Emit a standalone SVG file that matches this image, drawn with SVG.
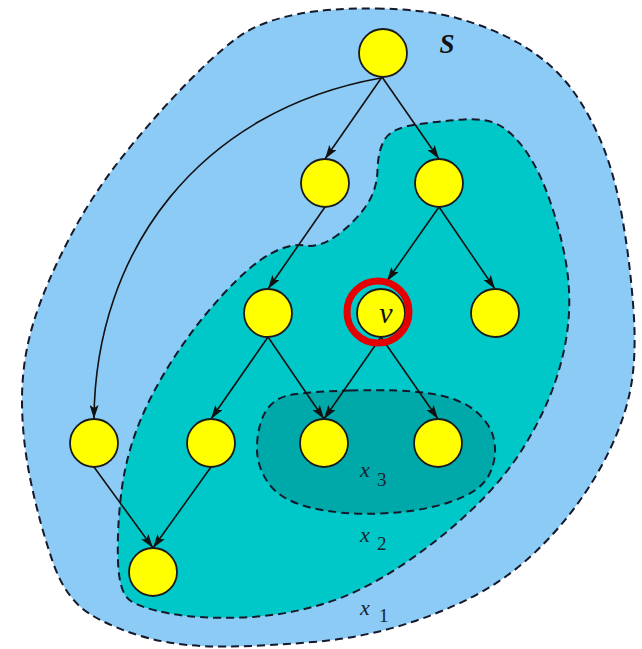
<svg xmlns="http://www.w3.org/2000/svg" width="642" height="649" viewBox="0 0 642 649">
<style>
.region{stroke:#15192a;stroke-width:2;stroke-dasharray:8 5;}
.node .disc{fill:#ffff00;stroke:#1a1a1a;stroke-width:1.8;}
.ring{fill:none;stroke:#e40000;stroke-width:7;}
.edge{fill:none;stroke:#111;stroke-width:1.6;marker-end:url(#ah);}
.lbl{font-family:"Liberation Serif","Times New Roman",serif;fill:#17222e;}
.dark{fill:#111;}
</style>
<defs>
<marker id="ah" markerWidth="15" markerHeight="9" refX="14" refY="4.5" orient="auto" markerUnits="userSpaceOnUse">
<path d="M0,0 L14,4.5 L0,9 L3,4.5 Z" fill="#111"/>
</marker>
</defs>
<rect width="642" height="649" fill="#ffffff"/>
<g id="region-S">
<path class="region" fill="#8dcbf7" d="M 376.5,8.5 Q 423,9 456.5,18 Q 490,27 517.5,42.5 Q 545,58 563.5,79 Q 582,100 597.5,133.5 Q 613,167 621.5,213.5 Q 630,260 633.5,310 Q 637,360 629.5,394 Q 622,428 602,465 Q 582,502 552.5,534.5 Q 523,567 490,587 Q 457,607 412,622 Q 367,637 318.5,641.5 Q 270,646 226.5,646.5 Q 183,647 150,638.5 Q 117,630 91.5,615 Q 66,600 53,562.5 Q 40,525 31,482.5 Q 22,440 22,400 Q 22,360 33.5,322.5 Q 45,285 69,239 Q 93,193 126.5,151.5 Q 160,110 193.5,76.5 Q 227,43 247,31.5 Q 267,20 298.5,14 Q 330,8 376.5,8.5 Z"/>
</g>
<g id="region-x2">
<path class="region" fill="#00c8c8" d="M 385,139 Q 392,128 416,124.5 Q 440,121 464,119.5 Q 488,118 501.5,126.5 Q 515,135 527.5,153.5 Q 540,172 550,201 Q 560,230 565.5,260 Q 571,290 568.5,320 Q 566,350 555.5,381 Q 545,412 525,445 Q 505,478 472.5,509 Q 440,540 400,566.5 Q 360,593 321.5,604.5 Q 283,616 241.5,617.5 Q 200,619 170,613.5 Q 140,608 129.5,600 Q 119,592 118,561 Q 117,530 121,495 Q 125,460 137.5,427.5 Q 150,395 172.5,360 Q 195,325 222.5,295 Q 250,265 270,254 Q 290,243 305,245.5 Q 320,248 337.5,235 Q 355,222 366,206 Q 377,190 377.5,170 Q 378,150 385,139 Z"/>
</g>
<g id="region-x3">
<path class="region" fill="#00a9a9" d="M 350,390.5 Q 400,389 430,393.5 Q 460,398 476,411.5 Q 492,425 494.5,442.5 Q 497,460 488.5,476 Q 480,492 450,502 Q 420,512 380,513.5 Q 340,515 310,507.5 Q 280,500 268,482.5 Q 256,465 257,445 Q 258,425 265,412.5 Q 272,400 286,396 Q 300,392 350,390.5 Z"/>
</g>
<g id="connectors">
<path class="edge" d="M 382,77 L 325,159"/>
<path class="edge" d="M 382,77 L 439,159"/>
<path class="edge" d="M 381,78 C 200,110 95,250 94,419"/>
<path class="edge" d="M 325,207 L 268,289"/>
<path class="edge" d="M 439,207 L 387,281"/>
<path class="edge" d="M 439,207 L 495,289"/>
<path class="edge" d="M 268,337 L 211,419"/>
<path class="edge" d="M 268,337 L 324,419"/>
<path class="edge" d="M 381,337 L 324,419"/>
<path class="edge" d="M 381,337 L 438,419"/>
<path class="edge" d="M 94,467 L 153,548"/>
<path class="edge" d="M 211,467 L 153,548"/>
</g>
<g id="n-top" class="node"><circle class="disc" cx="383" cy="53" r="24"/></g>
<g id="n-a" class="node"><circle class="disc" cx="325" cy="183" r="24"/></g>
<g id="n-b" class="node"><circle class="disc" cx="439" cy="183" r="24"/></g>
<g id="n-c" class="node"><circle class="disc" cx="268" cy="313" r="24"/></g>
<g id="n-v" class="node"><circle class="disc" cx="381" cy="313" r="24"/>
<circle class="ring" cx="378" cy="312" r="31"/>
<text class="lbl dark" x="386" y="323" font-size="30" font-style="italic" text-anchor="middle">v</text></g>
<g id="n-d" class="node"><circle class="disc" cx="495" cy="313" r="24"/></g>
<g id="n-e" class="node"><circle class="disc" cx="94" cy="443" r="24"/></g>
<g id="n-f" class="node"><circle class="disc" cx="211" cy="443" r="24"/></g>
<g id="n-g" class="node"><circle class="disc" cx="324" cy="443" r="24"/></g>
<g id="n-h" class="node"><circle class="disc" cx="438" cy="443" r="24"/></g>
<g id="n-i" class="node"><circle class="disc" cx="153" cy="572" r="24"/></g>
<g id="labels">
<text class="lbl dark" x="447" y="53" font-size="27" font-style="italic" font-weight="bold" text-anchor="middle">S</text>
<text class="lbl" x="360" y="477" font-size="22" font-style="italic">x</text>
<text class="lbl" x="377" y="486" font-size="19">3</text>
<text class="lbl" x="360" y="542" font-size="22" font-style="italic">x</text>
<text class="lbl" x="377" y="550" font-size="19">2</text>
<text class="lbl" x="360" y="615" font-size="22" font-style="italic">x</text>
<text class="lbl" x="379" y="622" font-size="19">1</text>
</g>
</svg>
